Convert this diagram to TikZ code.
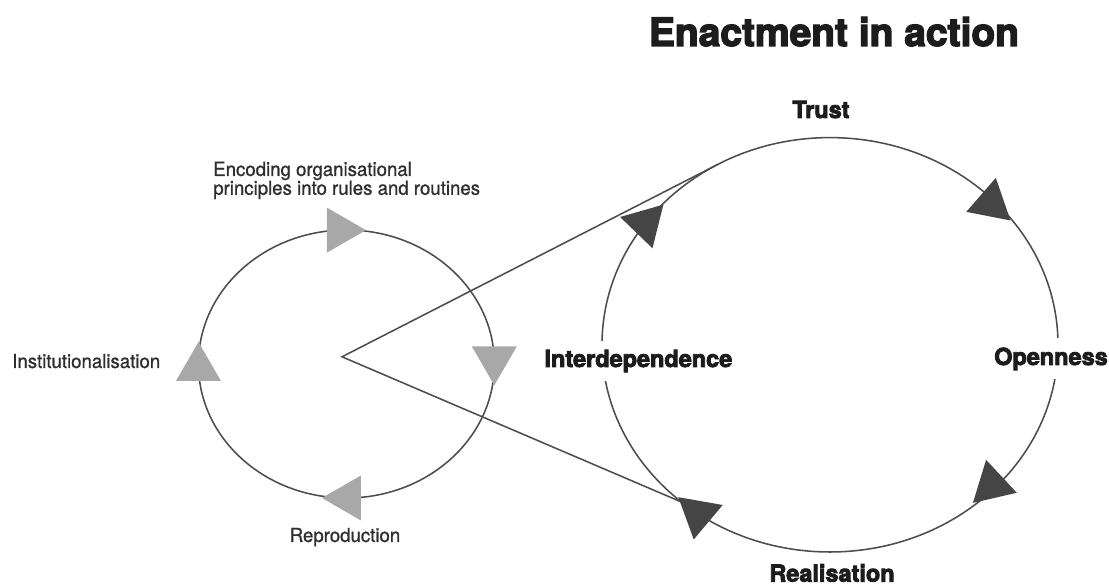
\documentclass[tikz,border=0pt]{standalone}
\usepackage{fontspec}
\setmainfont{TeX Gyre Heros}
\newfontfamily\heavyfont[FakeBold=3.5]{TeX Gyre Heros Bold}
\newfontfamily\plainfont[FakeBold=0.9, FakeStretch=0.96]{TeX Gyre Heros}
\usetikzlibrary{shapes.geometric, positioning}

\definecolor{ringline}{HTML}{4D4D4D}
\definecolor{paleptr}{HTML}{A8A8A8}
\definecolor{darkptr}{HTML}{454545}
\definecolor{labelgray}{HTML}{2E2E2E}
\definecolor{heading}{HTML}{1C1C1C}

\begin{document}
\begin{tikzpicture}[
        ring/.style = {draw=ringline, line width=1.1pt},
        spoke/.style = {draw=ringline, line width=1.1pt, line join=miter},
        pointer/.style = {regular polygon, regular polygon sides=3, minimum size=1.3cm, inner sep=0pt},
        palepointer/.style = {pointer, fill=paleptr},
        darkpointer/.style = {pointer, fill=darkptr},
        smalllabel/.style = {text=labelgray, font=\plainfont\fontsize{13.8}{13.4}\selectfont, inner sep=0pt},
        biglabel/.style = {text=heading, font=\heavyfont\fontsize{16.7}{18}\selectfont, inner sep=0pt},
        gapcover/.style = {fill=white, inner ysep=6.5pt, inner xsep=1pt}
    ]
    \useasboundingbox (0,0) rectangle (27.725,14.7);

    % the two loops
    \coordinate (lc) at (8.66,5.60);
    \coordinate (rc) at (20.75,6.08);
    \draw[ring] (lc) ellipse [x radius=3.70, y radius=3.35];
    \draw[ring] (rc) ellipse [x radius=5.70, y radius=5.18];

    % zoom lines from the small loop onto the big one
    \coordinate (apex) at (8.55,5.78);
    \coordinate (touch) at ([shift={(119.5:5.70 and 5.18)}]rc);
    \coordinate (land) at ([shift={(229.4:5.70 and 5.18)}]rc);
    \draw[spoke] (touch) -- (apex) -- (land);

    % headings and labels
    \node[biglabel, anchor=base, font=\heavyfont\fontsize{27.7}{30}\selectfont] (title) at (20.85,13.55) {Enactment in action};
    \node[biglabel, anchor=base] (trust) at (20.525,11.75) {Trust};
    \node[biglabel, gapcover, anchor=base] (interdep) at (15.96,5.525) {Interdependence};
    \node[biglabel, gapcover, anchor=base] (openness) at (26.275,5.575) {Openness};
    \node[biglabel, anchor=base] (realise) at (20.8,0.16) {Realisation};

    \node[smalllabel, anchor=base west, align=left] (encoding) at (5.325,9.83) {Encoding organisational\\principles into rules and routines};
    \node[smalllabel, anchor=base west] (instit) at (0.3,5.5) {Institutionalisation};
    \node[smalllabel, anchor=base] (reprod) at (8.625,1.15) {Reproduction};

    % pale pointers round the small loop
    \node[palepointer, rotate=-90] (encodeptr) at ([shift={(92.5:3.70 and 3.35)}]lc) {};
    \node[palepointer, rotate=180] (eastptr) at ([shift={(2:3.70 and 3.35)}]lc) {};
    \node[palepointer, rotate=90] (reprodptr) at ([shift={(270.6:3.70 and 3.35)}]lc) {};
    \node[palepointer] (institptr) at ([shift={(181.7:3.70 and 3.35)}]lc) {};

    % dark pointers round the big loop
    \node[darkpointer, rotate=-44] (trustin) at ([shift={(144.1:5.70 and 5.18)}]rc) {};
    \node[darkpointer, rotate=-131] (trustout) at ([shift={(44.1:5.60 and 5.08)}]rc) {};
    \node[darkpointer, rotate=133] (openout) at ([shift={(-43.7:5.60 and 5.08)}]rc) {};
    \node[darkpointer, rotate=50] (realiseout) at ([shift={(-125.3:5.70 and 5.18)}]rc) {};
\end{tikzpicture}
\end{document}
